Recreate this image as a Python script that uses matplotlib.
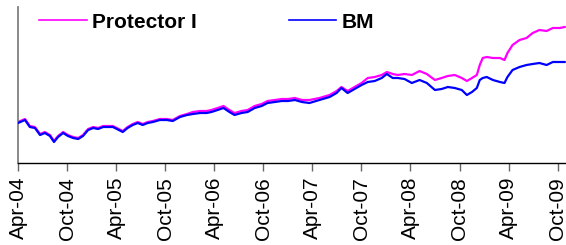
import numpy as np
import pandas as pd
import matplotlib
matplotlib.use("Agg")
import matplotlib.pyplot as plt
import matplotlib.dates as mdates

plt.rcParams['font.family'] = ['Liberation Sans', 'DejaVu Sans']

# values (index, start = 100)
dates = pd.to_datetime([
    "2004-04-01", "2004-04-27", "2004-05-15", "2004-06-03", "2004-06-22",
    "2004-07-10", "2004-07-29", "2004-08-13", "2004-08-28", "2004-09-16",
    "2004-10-04", "2004-10-23", "2004-11-11", "2004-11-29", "2004-12-18",
    "2005-01-06", "2005-01-24", "2005-02-12", "2005-03-01", "2005-03-20",
    "2005-04-04", "2005-04-26", "2005-05-14", "2005-06-02", "2005-06-21",
    "2005-07-09", "2005-07-28", "2005-08-16", "2005-09-11", "2005-10-07",
    "2005-10-29", "2005-11-25", "2005-12-21", "2006-01-12", "2006-02-08",
    "2006-03-04", "2006-03-22", "2006-04-14", "2006-05-06", "2006-05-28",
    "2006-06-16", "2006-07-12", "2006-08-04", "2006-08-30", "2006-09-25",
    "2006-10-17", "2006-11-13", "2006-12-09", "2007-01-01", "2007-01-27",
    "2007-02-22", "2007-03-22", "2007-04-28", "2007-06-05", "2007-07-01",
    "2007-07-19", "2007-08-11", "2007-09-06", "2007-10-02", "2007-10-25",
    "2007-11-20", "2007-12-16", "2008-01-04", "2008-01-26", "2008-02-14",
    "2008-03-10", "2008-04-06", "2008-05-05", "2008-06-01", "2008-07-01",
    "2008-07-26", "2008-08-18", "2008-09-13", "2008-10-09", "2008-10-28",
    "2008-11-16", "2008-12-04", "2008-12-15", "2008-12-26", "2009-01-10",
    "2009-02-02", "2009-02-28", "2009-03-17", "2009-03-28", "2009-04-16",
    "2009-05-12", "2009-06-07", "2009-06-30", "2009-07-25", "2009-08-21",
    "2009-09-13", "2009-10-09", "2009-10-27",
])

bm = [
    100, 103, 96, 95, 88,
    90, 87, 81, 86, 90,
    87, 85, 84, 87, 93,
    95, 94, 96, 96, 96,
    94, 91, 95, 98, 100,
    98, 100, 101, 103, 103,
    102, 106, 108, 109, 110,
    110, 111, 113, 115, 111,
    108, 110, 111, 115, 117,
    120, 121, 122, 122, 123,
    121, 120, 123, 126, 130,
    135, 130, 134, 138, 141,
    142, 145, 149, 145, 145,
    144, 140, 143, 140, 133,
    134, 136, 135, 133, 128,
    131, 135, 143, 145, 146,
    143, 141, 140, 146, 153,
    156, 158, 159, 160, 158,
    161, 161, 161,
]

protector = [
    101, 104, 97, 96, 89,
    91, 88, 82, 87, 91,
    88, 86, 85, 88, 94,
    96, 95, 97, 97, 97,
    95, 92, 96, 99, 101,
    99, 101, 102, 104, 104,
    103, 107, 109, 111, 112,
    112, 113, 115, 117, 113,
    110, 112, 113, 117, 119,
    122, 123, 124, 124, 125,
    123, 123, 125, 128, 132,
    136, 132, 136, 140, 145,
    146, 148, 151, 149, 148,
    149, 148, 152, 149, 143,
    145, 147, 148, 145, 142,
    145, 148, 158, 165, 166,
    165, 165, 163, 170, 178,
    183, 185, 190, 193, 192,
    195, 195, 196,
]

tick_dates = pd.date_range("2004-04-01", "2009-10-01", freq="6MS")

fig = plt.figure(figsize=(5.66, 2.45), dpi=100)
ax = fig.add_axes([18 / 566, 82 / 245, 1 - 18 / 566, 156 / 245])

ax.plot(dates, protector, color="#FF00FF", lw=1.6, label="Protector I", zorder=2)
ax.plot(dates, bm, color="#0000FF", lw=1.6, label="BM", zorder=3)

ax.set_xlim(pd.Timestamp("2004-04-01"), pd.Timestamp("2009-11-01"))
ax.set_ylim(60, 216)
ax.set_yticks([])
ax.set_xticks(tick_dates)
ax.xaxis.set_major_formatter(mdates.DateFormatter("%b-%y"))
ax.tick_params(axis="x", labelrotation=90, labelsize=15, length=6, width=1,
               color="#666666", pad=4)

ax.spines["top"].set_visible(False)
ax.spines["right"].set_visible(False)
ax.spines["left"].set_color("#808080")
ax.spines["left"].set_linewidth(1.3)
ax.spines["bottom"].set_color("black")
ax.spines["bottom"].set_linewidth(1)

leg = fig.legend(loc="center left", bbox_to_anchor=(39 / 566, 1 - 22 / 245),
                 bbox_transform=fig.transFigure, ncol=2, frameon=False,
                 borderpad=0, borderaxespad=0, handlelength=2.3,
                 handletextpad=0.25, columnspacing=4.4,
                 prop={"weight": "bold", "size": 15})
for line in leg.get_lines():
    line.set_linewidth(1.2)

fig.savefig("out.png", dpi=100)
